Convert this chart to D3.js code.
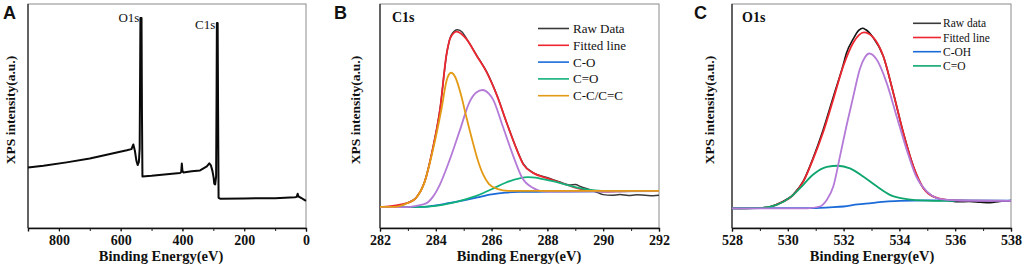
<!DOCTYPE html>
<html>
<head>
<meta charset="utf-8">
<script src="https://cdn.jsdelivr.net/npm/d3@7"></script>
<style>
  html, body { margin: 0; padding: 0; background: #fff; }
  svg { display: block; }
</style>
</head>
<body>
<div id="chart"></div>
<script>
// ---- data (binding energy eV, intensity a.u.) ----
var surveyA = [
  [900, 27.0], [850, 27.8], [775, 29.3], [700, 31.0], [667, 32.0], [620, 33.5],
  [580, 34.7], [565, 35.2], [559, 37.3], [554, 34.5], [549, 30.0], [545, 28.1],
  [541, 29.5], [538.5, 35.5], [537, 70], [536, 93.7], [532.5, 93.7], [531, 50],
  [529.5, 23.0], [500, 23.3], [450, 24.0], [408, 24.5], [404, 25], [402, 28.8],
  [400, 25.5], [397, 24.8], [370, 25.3], [343, 25.7], [321, 27.5], [313, 28.9],
  [308, 28.0], [303, 25.5], [299, 22.5], [297, 19.8], [294, 19.5], [291, 23],
  [289.5, 60], [288.5, 91.5], [286, 91.5], [284.5, 50], [283, 13.5], [278, 13.1],
  [200, 13.2], [100, 13.3], [36, 13.7], [30, 13.9], [27, 15.3], [24, 14.0],
  [15, 13.4], [8, 12.8], [0, 12.1]
];
var peakLabelsA = [["O1s", 533], ["C1s", 287]];

var rawB = [
  [282, 9.5], [282.5, 9.4], [283, 11.3], [283.3, 13.6], [283.6, 20.8], [283.9, 36],
  [284.15, 53], [284.4, 78.5], [284.55, 86], [284.78, 88.5], [284.95, 87.4],
  [285.1, 84.5], [285.47, 77], [285.83, 69.6], [286.2, 59], [286.54, 47], [286.9, 35.2],
  [287.14, 28.6], [287.5, 24.6], [287.98, 22.6], [288.45, 20.5], [288.8, 19.2],
  [289.0, 19.4], [289.2, 18.4], [289.5, 17.2], [289.8, 15.8], [290.0, 14.9],
  [290.3, 14.6], [290.6, 14.9], [290.9, 14.5], [291.2, 14.8], [291.5, 14.6],
  [291.8, 14.4], [292, 14.6]
];
var fitB = [
  [282, 9.3], [283, 11.2], [283.3, 13.5], [283.6, 20.5], [283.9, 36], [284.15, 52.9],
  [284.39, 78], [284.52, 84.8], [284.75, 87.7], [285.1, 84.3], [285.47, 76.8],
  [285.83, 69.4], [286.2, 58.9], [286.54, 47], [286.9, 35], [287.14, 28.3],
  [287.5, 24.5], [287.98, 22.3], [288.45, 20.3], [288.93, 18.3], [289.4, 17],
  [290, 16.3], [291, 16.5], [292, 16.5]
];
var coB = [
  [282, 9.3], [283, 9.3], [283.5, 9.4], [284, 10.1], [284.5, 11.2], [285, 12.3],
  [285.5, 13.7], [286, 15.0], [286.5, 15.8], [287, 16.1], [288, 16.2], [290, 16.4],
  [292, 16.5]
];
var c2oB = [
  [282, 9.3], [283.5, 9.4], [284, 9.9], [284.5, 11.0], [285, 12.6], [285.5, 14.6],
  [286, 17.3], [286.5, 20.2], [287.0, 22.2], [287.3, 22.7], [287.7, 22.2],
  [288.2, 20.9], [288.7, 19.3], [289.2, 17.7], [289.7, 16.8], [290.2, 16.5], [292, 16.5]
];
var ccB = [
  [282, 9.4], [282.5, 9.4], [283, 11.2], [283.3, 13.5], [283.6, 20.6], [283.9, 35],
  [284.2, 52.9], [284.4, 66.4], [284.55, 69.3], [284.7, 67.3], [284.9, 59.6],
  [285.1, 49.3], [285.3, 39.5], [285.5, 30.5], [285.7, 23.8], [285.9, 19.7],
  [286.2, 17.5], [286.6, 16.6], [287.5, 16.6], [292, 16.6]
];
var compB = [
  [282, 9.3], [283, 9.3], [283.3, 9.9], [283.67, 11.1], [283.9, 14], [284.15, 19.5],
  [284.5, 30.5], [284.87, 43.9], [285.2, 56], [285.45, 60.5], [285.68, 61.6],
  [285.9, 60], [286.05, 57.4], [286.4, 45.4], [286.78, 32], [287.1, 22.3],
  [287.5, 17.8], [287.7, 16.7], [288, 16.3], [290, 16.4], [292, 16.5]
];

var rawC = [
  [528, 8.8], [528.5, 8.7], [529, 8.9], [529.4, 9.6], [529.72, 11.2], [530.2, 15],
  [530.56, 21], [530.9, 31], [531.26, 43.5], [531.63, 58.5], [531.99, 73], [532.1, 78],
  [532.35, 84.5], [532.55, 88.3], [532.68, 89.2], [532.8, 88.5], [533.06, 85],
  [533.42, 76.8], [533.78, 60.4], [534.14, 42.5], [534.5, 27.5], [534.86, 17.8],
  [535.22, 14], [535.7, 12.4], [536.1, 11.7], [536.5, 11.8], [536.9, 11.5],
  [537.25, 11.3], [537.6, 11.9], [538, 12.2]
];
var fitC = [
  [528, 8.8], [529, 8.9], [529.4, 9.6], [529.72, 11.1], [530.2, 14.8], [530.56, 20.8],
  [530.9, 30.5], [531.26, 42.5], [531.63, 57.4], [531.99, 72.3], [532.35, 82.8],
  [532.73, 87.3], [533.06, 85.1], [533.42, 76.8], [533.78, 60.4], [534.14, 42.5],
  [534.5, 27.5], [534.86, 17.8], [535.22, 14], [535.7, 12.6], [536.5, 12.2], [538, 12.1]
];
var cohC = [
  [528, 8.8], [530, 8.9], [531, 8.9], [531.5, 9.2], [532, 9.6], [532.5, 10.5],
  [533, 11.1], [533.5, 11.8], [534, 12.1], [535, 12.3], [538, 12.2]
];
var c2oC = [
  [528, 8.8], [529, 8.9], [529.6, 10.3], [530.1, 13.8], [530.44, 17.8], [530.9, 23.8],
  [531.4, 27.3], [531.8, 27.8], [532.23, 26.6], [532.7, 23], [533.2, 18.5],
  [533.66, 14.8], [534.26, 12.9], [534.98, 12.2], [535.46, 12.1], [536, 12.1]
];
var compC = [
  [528, 8.8], [530.7, 8.8], [531.15, 9.6], [531.4, 12.6], [531.63, 18.5], [531.87, 32],
  [532.1, 45.4], [532.35, 58.9], [532.58, 70.9], [532.76, 76.1], [532.92, 77.9],
  [533.18, 75.3], [533.54, 64.9], [533.9, 49.9], [534.26, 35], [534.6, 23],
  [534.98, 16.3], [535.34, 13.3], [535.7, 12.6], [536.5, 12.2], [538, 12.1]
];

var legendB = ["Raw Data", "Fitted line", "C-O", "C=O", "C-C/C=C"];
var legendC = ["Raw data", "Fitted line", "C-OH", "C=O"];

var ticksA = [0, 200, 400, 600, 800];
var ticksB = [282, 284, 286, 288, 290, 292];
var ticksC = [528, 530, 532, 534, 536, 538];

// ---- drawing ----
var W = 1024, H = 274;
var plotTop = 4, plotBottom = 228;
var serif = "'Liberation Serif', 'Times New Roman', serif";
var col = {raw: "#3a3a3a", fit: "#ee2630", co: "#1a6ad8", c2o: "#12b07a", cc: "#e39a14", comp: "#b47ad8"};

var svg = d3.select("#chart").append("svg")
    .attr("width", W).attr("height", H)
    .style("font-family", serif);
svg.append("rect").attr("width", W).attr("height", H).attr("fill", "#fff");

function panel(p) {
  var x = d3.scaleLinear().domain(p.domain).range([p.x0, p.x1]);
  var y = d3.scaleLinear().domain([0, 100]).range([plotBottom, plotTop]);
  var g = svg.append("g");

  // frame: light top/right, black bottom/left
  g.append("rect").attr("x", p.x0).attr("y", plotTop)
      .attr("width", p.x1 - p.x0).attr("height", plotBottom - plotTop)
      .attr("fill", "none").attr("stroke", "#8a8a8a").attr("stroke-width", 1);

  var minor = g.append("g").attr("transform", "translate(0," + plotBottom + ")")
      .call(d3.axisBottom(x).tickValues(p.minor).tickSize(3).tickFormat(""));
  minor.select(".domain").remove();
  minor.selectAll("line").attr("stroke", "#222");

  var ax = g.append("g").attr("transform", "translate(0," + plotBottom + ")")
      .call(d3.axisBottom(x).tickValues(p.ticks).tickSize(3.5).tickPadding(4)
        .tickFormat(d3.format("d")));
  ax.attr("font-family", serif);
  ax.select(".domain").attr("stroke", "#111").attr("stroke-width", 1.4);
  ax.selectAll("line").attr("stroke", "#111");
  ax.selectAll("text").style("font-family", serif)
      .style("font-size", "14px").style("font-weight", "bold").attr("fill", "#111");

  g.append("line").attr("x1", p.x0).attr("x2", p.x0).attr("y1", plotTop).attr("y2", plotBottom)
      .attr("stroke", "#222").attr("stroke-width", 1.2);

  var line = d3.line().x(d => x(d[0])).y(d => y(d[1])).curve(p.curve);
  p.series.forEach(s => {
    g.append("path").datum(s.data)
        .attr("fill", "none").attr("stroke", s.color)
        .attr("stroke-width", s.w || 1.8).attr("stroke-linejoin", "round")
        .attr("d", line);
  });

  // axis titles
  g.append("text").attr("x", p.xt).attr("y", 261).attr("text-anchor", "middle")
      .style("font-size", "14.5px").style("font-weight", "bold").attr("fill", "#111")
      .text("Binding Energy(eV)");
  g.append("text").attr("transform", "translate(" + p.yt + ",110) rotate(-90)")
      .attr("text-anchor", "middle").style("font-size", "13.5px").style("font-weight", "bold")
      .attr("fill", "#111").text("XPS intensity(a.u.)");

  // panel letter
  g.append("text").attr("x", p.lx).attr("y", 19)
      .style("font-family", "'Liberation Sans', Arial, sans-serif")
      .style("font-size", "18px").style("font-weight", "bold").attr("fill", "#111").text(p.letter);

  return {x: x, y: y, g: g};
}

// A: survey
var A = panel({
  domain: [900, 0], x0: 28, x1: 306, ticks: ticksA, minor: d3.range(0, 901, 100),
  curve: d3.curveLinear, xt: 161, yt: 15, lx: 3, letter: "A",
  series: [{data: surveyA, color: "#0a0a0a", w: 2}]
});
peakLabelsA.forEach((d, i) => {
  A.g.append("text").attr("x", A.x(d[1]) - 2).attr("y", i ? 29 : 22)
      .attr("text-anchor", "end").style("font-size", "13px").attr("fill", "#111")
      .text(d[0]);
});

// B: C1s
var B = panel({
  domain: [282, 292], x0: 380, x1: 659, ticks: ticksB, minor: d3.range(282, 293, 1),
  curve: d3.curveMonotoneX, xt: 519, yt: 360, lx: 334, letter: "B",
  series: [
    {data: rawB, color: col.raw, w: 1.5},
    {data: fitB, color: col.fit},
    {data: coB, color: col.co},
    {data: c2oB, color: col.c2o},
    {data: compB, color: col.comp},
    {data: ccB, color: col.cc}
  ]
});
B.g.append("text").attr("x", 392).attr("y", 22).style("font-size", "14px")
    .style("font-weight", "bold").attr("fill", "#111").text("C1s");
var colsB = [col.raw, col.fit, col.co, col.c2o, col.cc];
legendB.forEach((t, i) => {
  var yy = 28.5 + i * 16.8;
  B.g.append("line").attr("x1", 538).attr("x2", 569).attr("y1", yy).attr("y2", yy)
      .attr("stroke", colsB[i]).attr("stroke-width", 1.6);
  B.g.append("text").attr("x", 573).attr("y", yy + 4.5).style("font-size", "13px")
      .attr("fill", "#111").text(t);
});

// C: O1s
var C = panel({
  domain: [528, 538], x0: 732, x1: 1011, ticks: ticksC, minor: d3.range(528, 539, 1),
  curve: d3.curveMonotoneX, xt: 872, yt: 714, lx: 694, letter: "C",
  series: [
    {data: rawC, color: "#151515", w: 1.6},
    {data: fitC, color: col.fit},
    {data: cohC, color: col.co},
    {data: c2oC, color: "#0ea66e"},
    {data: compC, color: col.comp}
  ]
});
C.g.append("text").attr("x", 742).attr("y", 22).style("font-size", "14px")
    .style("font-weight", "bold").attr("fill", "#111").text("O1s");
var colsC = [col.raw, col.fit, col.co, "#0ea66e"];
legendC.forEach((t, i) => {
  var yy = 23.3 + i * 14.2;
  C.g.append("line").attr("x1", 913).attr("x2", 941).attr("y1", yy).attr("y2", yy)
      .attr("stroke", colsC[i]).attr("stroke-width", 1.6);
  C.g.append("text").attr("x", 943).attr("y", yy + 4).style("font-size", "11.5px")
      .attr("fill", "#111").text(t);
});
</script>
</body>
</html>
